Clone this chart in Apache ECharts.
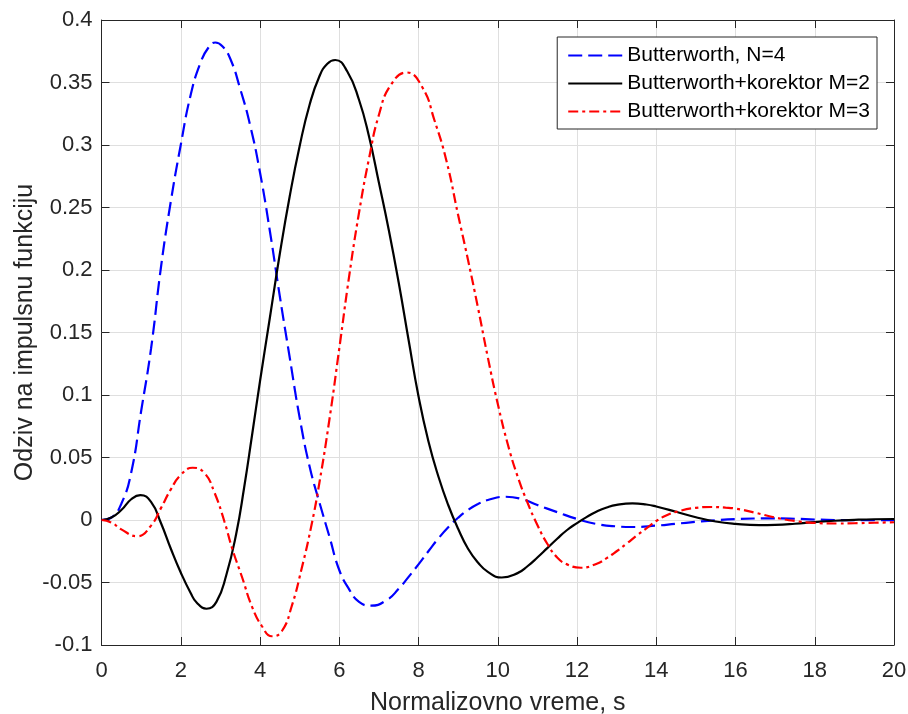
<!DOCTYPE html>
<html>
<head>
<meta charset="utf-8">
<title>Odziv na impulsnu funkciju</title>
<script src="https://cdn.jsdelivr.net/npm/echarts@6/dist/echarts.min.js"></script>
<style>
  html, body { margin: 0; padding: 0; background: #ffffff; overflow: hidden; }
  #chart { width: 908px; height: 714px; }
</style>
</head>
<body>
<div id="chart"></div>
<script>
// Butterworth, N=4 : time (s) and response
const butterworthT = [
  0, 0.25, 0.5, 0.75, 1, 1.25, 1.5, 1.75, 2, 2.25, 2.5, 2.7, 2.87, 3.05, 3.25, 3.5, 3.75,
  4, 4.25, 4.5, 4.75, 5, 5.25, 5.5, 5.75, 6, 6.25, 6.5, 6.8, 7.2, 7.5, 7.75,
  8, 8.25, 8.5, 8.75, 9, 9.25, 9.5, 9.75, 10.2, 10.6, 11, 11.5, 12, 12.5, 13,
  13.4, 14, 14.5, 15, 15.5, 16, 16.9, 17.5, 18, 18.5, 19.2, 20
];
const butterworthV = [
  0, 0.002, 0.013, 0.038, 0.087, 0.137, 0.202, 0.255, 0.300, 0.340, 0.366, 0.378, 0.382, 0.379, 0.369, 0.345, 0.316,
  0.278, 0.231, 0.179, 0.130, 0.082, 0.043, 0.014, -0.013, -0.040, -0.0555, -0.0655, -0.0685, -0.064, -0.055, -0.0455,
  -0.0355, -0.025, -0.0148, -0.0058, 0.0018, 0.008, 0.0128, 0.016, 0.0186, 0.0168, 0.012, 0.0063, 0.0008, -0.0032, -0.0051,
  -0.0056, -0.0045, -0.003, -0.0015, -0.0002, 0.0007, 0.0013, 0.001, 0.0004, 0, -0.0002, -0.0001
];

// Butterworth + corrector, M=2
const korektorM2T = [
  0, 0.25, 0.5, 0.75, 0.98, 1.25, 1.5, 1.75, 2, 2.25, 2.4, 2.65, 2.9, 3.15, 3.4, 3.6, 3.8,
  4, 4.25, 4.5, 4.75, 5, 5.25, 5.5, 5.7, 5.9, 6.2, 6.5, 6.75, 7, 7.25, 7.5, 7.75,
  8, 8.25, 8.5, 8.75, 9, 9.25, 9.5, 9.75, 10.1, 10.5, 10.75, 11, 11.25, 11.5, 11.75,
  12, 12.25, 12.5, 12.75, 13, 13.4, 13.75, 14, 14.5, 15, 15.5, 16, 16.6, 17, 17.5,
  18, 18.5, 19, 19.5, 20
];
const korektorM2V = [
  0, 0.002, 0.008, 0.0166, 0.0199, 0.0145, -0.0024, -0.023, -0.042, -0.0584, -0.066, -0.071, -0.0655, -0.044, -0.011, 0.026, 0.068,
  0.111, 0.162, 0.213, 0.259, 0.299, 0.332, 0.355, 0.365, 0.368, 0.359, 0.336, 0.307, 0.270, 0.232, 0.190, 0.144,
  0.099, 0.063, 0.035, 0.012, -0.007, -0.023, -0.034, -0.0415, -0.046, -0.0425, -0.037, -0.030, -0.0225, -0.015, -0.008,
  -0.0025, 0.0025, 0.0068, 0.010, 0.0121, 0.0133, 0.0124, 0.0108, 0.0066, 0.0022, -0.0012, -0.0031, -0.0041, -0.0039, -0.003,
  -0.0017, -0.0006, 0.0001, 0.0006, 0.0008
];

// Butterworth + corrector, M=3
const korektorM3T = [
  0, 0.25, 0.5, 0.9, 1.25, 1.5, 1.75, 2, 2.3, 2.6, 2.85, 3.1, 3.3, 3.55, 3.8,
  4.05, 4.3, 4.55, 4.8, 5.05, 5.3, 5.5, 5.75, 6, 6.25, 6.5, 6.75, 7, 7.3, 7.7,
  8.1, 8.4, 8.7, 9, 9.25, 9.5, 9.75, 10, 10.25, 10.5, 10.75, 11, 11.25, 11.5, 11.75,
  12.1, 12.5, 12.75, 13, 13.25, 13.5, 13.75, 14, 14.25, 14.5, 15, 15.4, 15.75, 16, 16.5,
  17, 17.5, 18, 18.6, 19, 19.5, 20
];
const korektorM3V = [
  0, -0.002, -0.0075, -0.013, -0.0045, 0.0095, 0.0245, 0.036, 0.0418, 0.0375, 0.022, -0.001, -0.023, -0.046, -0.0695,
  -0.085, -0.093, -0.089, -0.069, -0.039, -0.004, 0.030, 0.080, 0.137, 0.195, 0.246, 0.289, 0.324, 0.348, 0.358,
  0.346, 0.320, 0.288, 0.244, 0.208, 0.170, 0.130, 0.093, 0.061, 0.035, 0.014, -0.004, -0.019, -0.030, -0.0355,
  -0.0382, -0.035, -0.0305, -0.025, -0.019, -0.0126, -0.0067, -0.0008, 0.0036, 0.0065, 0.0097, 0.0104, 0.0099, 0.0091, 0.0058,
  0.002, -0.0008, -0.0023, -0.0028, -0.0026, -0.0022, -0.0018
];

const seriesNames = ['Butterworth, N=4', 'Butterworth+korektor M=2', 'Butterworth+korektor M=3'];
const xAxisTitle = 'Normalizovno vreme, s';
const yAxisTitle = 'Odziv na impulsnu funkciju';

const pairs = (ts, vs) => ts.map((t, i) => [t, vs[i]]);

const FONT = '"Liberation Sans", Arial, Helvetica, sans-serif';
const AXIS_COLOR = '#262626';
const GRID_COLOR = '#dfdfdf';

const chart = echarts.init(document.getElementById('chart'), null, { renderer: 'canvas' });

const lineStyles = [
  { color: '#0000ff', width: 2.2, type: [14, 6] },
  { color: '#000000', width: 2.2, type: 'solid' },
  { color: '#ff0000', width: 2.2, type: [10, 4, 3, 4] }
];

const seriesData = [
  pairs(butterworthT, butterworthV),
  pairs(korektorM2T, korektorM2V),
  pairs(korektorM3T, korektorM3V)
];

// Mirrored box axes (top / right) carry ticks only
const boxX = {
  type: 'value', min: 0, max: 20, interval: 2, position: 'top',
  axisLine: { show: true, onZero: false, lineStyle: { color: AXIS_COLOR, width: 1 } },
  axisTick: { show: true, inside: true, length: 8, lineStyle: { color: AXIS_COLOR } },
  axisLabel: { show: false },
  splitLine: { show: false }
};
const boxY = {
  type: 'value', min: -0.1, max: 0.4, interval: 0.05, position: 'right',
  axisLine: { show: true, onZero: false, lineStyle: { color: AXIS_COLOR, width: 1 } },
  axisTick: { show: true, inside: true, length: 8, lineStyle: { color: AXIS_COLOR } },
  axisLabel: { show: false },
  splitLine: { show: false }
};

chart.setOption({
  animation: false,
  backgroundColor: '#ffffff',
  grid: { left: 101.5, right: 14, top: 20, bottom: 69, containLabel: false, outerBoundsMode: 'none' },
  legend: {
    orient: 'vertical',
    right: 31,
    top: 37,
    padding: [8, 7, 7, 10],
    itemWidth: 54,
    itemHeight: 14,
    itemGap: 7,
    backgroundColor: '#ffffff',
    borderColor: AXIS_COLOR,
    borderWidth: 1,
    itemStyle: { opacity: 0 },
    textStyle: { fontFamily: FONT, fontSize: 21, lineHeight: 21, color: '#000000' },
    data: seriesNames
  },
  xAxis: [
    {
      type: 'value', min: 0, max: 20, interval: 2, position: 'bottom',
      name: xAxisTitle, nameLocation: 'middle', nameGap: 46, nameMoveOverlap: false,
      nameTextStyle: { fontFamily: FONT, fontSize: 25, color: AXIS_COLOR },
      axisLine: { show: true, onZero: false, lineStyle: { color: AXIS_COLOR, width: 1 } },
      axisTick: { show: true, inside: true, length: 8, lineStyle: { color: AXIS_COLOR } },
      axisLabel: { fontFamily: FONT, fontSize: 22, color: AXIS_COLOR, margin: 15 },
      splitLine: { show: true, lineStyle: { color: GRID_COLOR, width: 1 } }
    },
    boxX
  ],
  yAxis: [
    {
      type: 'value', min: -0.1, max: 0.4, interval: 0.05, position: 'left',
      name: yAxisTitle, nameLocation: 'middle', nameGap: 64, nameMoveOverlap: false,
      nameTextStyle: { fontFamily: FONT, fontSize: 25, color: AXIS_COLOR },
      axisLine: { show: true, onZero: false, lineStyle: { color: AXIS_COLOR, width: 1 } },
      axisTick: { show: true, inside: true, length: 8, lineStyle: { color: AXIS_COLOR } },
      axisLabel: { fontFamily: FONT, fontSize: 22, color: AXIS_COLOR, margin: 9 },
      splitLine: { show: true, lineStyle: { color: GRID_COLOR, width: 1 } }
    },
    boxY
  ],
  series: seriesData.map((data, i) => ({
    name: seriesNames[i],
    type: 'line',
    xAxisIndex: 0,
    yAxisIndex: 0,
    data: data,
    smooth: 0.5,
    symbol: 'none',
    clip: true,
    lineStyle: lineStyles[i],
    itemStyle: { color: lineStyles[i].color }
  }))
});
</script>
</body>
</html>
